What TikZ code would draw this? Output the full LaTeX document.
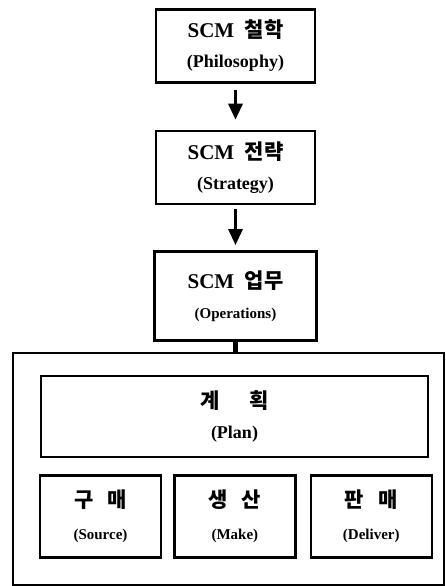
\documentclass[tikz,border=0pt]{standalone}
\usepackage{fontspec}
\setmainfont{Liberation Serif}
\newfontfamily\kr{Noto Sans CJK KR}
\usetikzlibrary{arrows.meta, positioning}
\newcommand{\hg}[1]{{\kr\bfseries #1}}
\newcommand{\headsz}{\fontsize{10.5}{12}\selectfont}
\newcommand{\subsz}{\fontsize{9}{11}\selectfont}
\newcommand{\smallsz}{\fontsize{7.5}{9}\selectfont}
\tikzset{
  stage/.style={draw, line width=1.2pt, align=center, inner sep=0pt, minimum width=79.5pt, minimum height=36.5pt},
  part/.style={draw, line width=1.2pt, align=center, inner sep=0pt, minimum width=60.5pt, minimum height=41pt},
  frame/.style={draw, line width=1.2pt, inner sep=0pt, minimum width=215.5pt, minimum height=116pt},
  flow/.style={-{Triangle[length=8pt,width=7pt]}, line width=1.6pt},
  link/.style={line width=2.5pt},
  every node/.style={font=\bfseries}
}
\begin{document}
\begin{tikzpicture}[x=0.5pt, y=-0.5pt, node distance=8pt and 5.5pt]
    \useasboundingbox (0,0) rectangle (446,586);
    \node[stage] (phil) at (235.5,46) {\headsz SCM\enspace\hg{철학}\\[3pt]\subsz (Philosophy)};
    \node[stage, below=23pt of phil] (strat) {\headsz SCM\enspace\hg{전략}\\[3pt]\subsz (Strategy)};
    \node[stage, minimum width=81pt, minimum height=44.5pt, below=22.5pt of strat] (oper) {\headsz SCM\enspace\hg{업무}\\[3pt]\smallsz (Operations)};
    \draw[flow, shorten <=3pt, shorten >=5pt] (phil) -- (strat);
    \draw[flow, shorten <=2pt, shorten >=2.5pt] (strat) -- (oper);
    % operations group
    \node[frame] (group) at (228.5,469) {};
    \draw[link] (oper.south) -- (oper.south |- group.north);
    \node[draw, line width=1.2pt, align=center, inner sep=0pt, minimum width=193.5pt, minimum height=40.5pt] (plan) at (234.5,416.5) {\headsz\hg{계\hspace{15pt}획}\\[3pt]\subsz (Plan)};
    \node[part, below right=8pt and -0.5pt of plan.south west, anchor=north west] (src) {\headsz\hg{구\hspace{7pt}매}\\[4pt]\smallsz (Source)};
    \node[part, right=of src] (make) {\headsz\hg{생\hspace{7pt}산}\\[4pt]\smallsz (Make)};
    \node[part, right=6.5pt of make] (dlv) {\headsz\hg{판\hspace{7pt}매}\\[4pt]\smallsz (Deliver)};
\end{tikzpicture}
\end{document}
